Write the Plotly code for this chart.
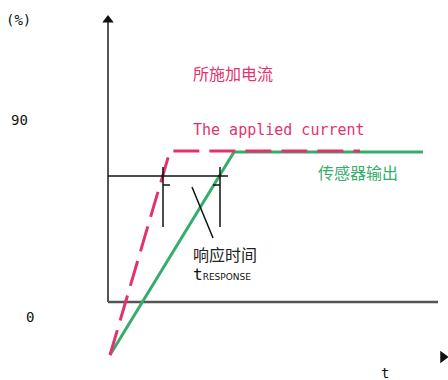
import plotly.graph_objects as go

# Schematic units: t measured from the vertical axis, percent level measured from the time axis
applied_t = [2, 62, 252]
applied_pct = [-53, 151, 151]
sensor_t = [2, 126, 315]
sensor_pct = [-53, 150, 150]
threshold_t = [0, 120]
threshold_pct = [126, 126]
tick1_t = [55, 55]
tick2_t = [112, 112]
tick_pct = [135, 75]
diag_t = [84, 105]
diag_pct = [115, 64]
yaxis_t = [0, 0]
yaxis_pct = [0, 280]
xaxis_t = [0, 330]
xaxis_pct = [0, 0]

PINK = "#e2336e"
GREEN = "#35ad6b"
AX = "#555555"

fig = go.Figure()

def line(x, y, color, width, dash=None):
    fig.add_trace(go.Scatter(x=x, y=y, mode="lines",
                             line=dict(color=color, width=width, dash=dash),
                             hoverinfo="skip", showlegend=False))

line(yaxis_t, yaxis_pct, AX, 2)
line(xaxis_t, xaxis_pct, AX, 2.5)
line(sensor_t, sensor_pct, GREEN, 3)
line(applied_t, applied_pct, PINK, 3, "26px,10px")
line(threshold_t, threshold_pct, "#111111", 1.5)
line(tick1_t, tick_pct, "#111111", 1.5)
line(tick2_t, tick_pct, "#111111", 1.5)
line(diag_t, diag_pct, "#111111", 1.5)
line([55, 62], [117, 117], "#111111", 1.5)
line([105, 112], [117, 117], "#111111", 1.5)

# arrow heads
fig.add_trace(go.Scatter(x=[0], y=[282], mode="markers", cliponaxis=False,
                         marker=dict(symbol="triangle-up", size=10, color="#111111"),
                         hoverinfo="skip", showlegend=False))
fig.add_trace(go.Scatter(x=[335], y=[-55], mode="markers", cliponaxis=False,
                         marker=dict(symbol="triangle-right", size=11, color="#111111"),
                         hoverinfo="skip", showlegend=False))

mono = "DejaVu Sans Mono"
cjk = "Noto Sans CJK SC"

def text(x, y, s, color, size, family, xanchor="left"):
    fig.add_annotation(x=x, y=y, text=s, showarrow=False, xanchor=xanchor, yanchor="middle",
                       font=dict(color=color, size=size, family=family))

text(-89.5, 282, "(%)", "#111111", 14, mono, "center")
text(-99, 182, "90", "#111111", 14, mono)
text(-84, -15, "0", "#111111", 14, mono)
text(271, -71, "t", "#111111", 14, mono)
text(83, 229, "所施加电流", PINK, 16, cjk)
text(83, 172, "The applied current", PINK, 15, mono)
text(208, 130, "传感器输出", GREEN, 16, cjk)
text(83, 48, "响应时间", "#222222", 16, cjk)
text(83, 28, "t<span style='font-size:9px;font-family:DejaVu Sans'>RESPONSE</span>", "#111111", 16, mono)

fig.update_layout(
    width=448, height=380,
    margin=dict(l=0, r=0, t=0, b=0),
    paper_bgcolor="white", plot_bgcolor="white",
    xaxis=dict(range=[-108, 340], visible=False, fixedrange=True),
    yaxis=dict(range=[-78, 302], visible=False, fixedrange=True),
)

fig.write_html("out.html", config={"displayModeBar": False},
               post_script="document.body.style.margin='0';document.body.style.overflow='hidden';")
